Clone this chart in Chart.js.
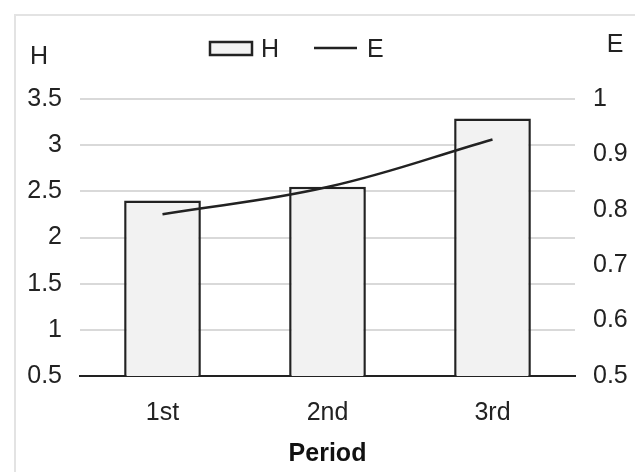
<!DOCTYPE html>
<html>
<head>
<meta charset="utf-8">
<script src="https://cdn.jsdelivr.net/npm/chart.js@4"></script>
<style>
  html, body { margin: 0; padding: 0; background: #ffffff; }
  #wrap { position: relative; width: 635px; height: 472px; overflow: hidden; }
  #frame { position: absolute; left: 14px; top: 14px; width: 700px; height: 600px;
           border-left: 2px solid #e3e3e3; border-top: 2px solid #e3e3e3; }
  #chart { position: absolute; left: 0; top: 0; }
</style>
</head>
<body>
<div id="wrap">
  <div id="frame"></div>
  <canvas id="chart" width="635" height="472"></canvas>
</div>
<script>
// Period vs H (bars, left axis) and E (line, right axis)
const periods = ['1st', '2nd', '3rd'];
const hValues = [2.4, 2.55, 3.29];
const eValues = [0.792, 0.841, 0.927];

const FONT = "'Liberation Sans', Arial, sans-serif";
const TEXT = '#222222';

// 3.0 -> 3, 1.0 -> 1
const plain = v => String(+v.toFixed(2));

// axis names and legend drawn on top of the chart
const annotations = {
    id: 'annotations',
    afterDraw(chart) {
        const c = chart.ctx;
        c.save();
        c.fillStyle = TEXT;
        c.font = '25px ' + FONT;
        c.textBaseline = 'middle';
        c.textAlign = 'center';
        c.fillText('H', 39, 57);
        c.fillText('E', 615, 45);

        // legend
        c.textAlign = 'left';
        c.fillStyle = '#f2f2f2';
        c.fillRect(210, 42, 42, 13);
        c.strokeStyle = '#222222';
        c.lineWidth = 2.5;
        c.strokeRect(210, 42, 42, 13);
        c.fillStyle = TEXT;
        c.fillText('H', 261, 50);
        c.beginPath();
        c.moveTo(314, 48);
        c.lineTo(357, 48);
        c.stroke();
        c.fillText('E', 367, 50);
        c.restore();
    }
};

new Chart(document.getElementById('chart'), {
    data: {
        labels: periods,
        datasets: [
            {
                type: 'line',
                label: 'E',
                data: eValues,
                yAxisID: 'y1',
                borderColor: '#222222',
                borderWidth: 2.5,
                pointRadius: 0,
                tension: 0.4,
                fill: false,
                order: 0
            },
            {
                type: 'bar',
                label: 'H',
                data: hValues,
                yAxisID: 'y',
                backgroundColor: '#f2f2f2',
                borderColor: '#222222',
                borderWidth: 2.5,
                borderSkipped: false,
                categoryPercentage: 1,
                barPercentage: 0.465,
                order: 1
            }
        ]
    },
    options: {
        responsive: false,
        animation: false,
        layout: { padding: { top: 99, left: 0, right: 0, bottom: 0 } },
        plugins: {
            legend: { display: false },
            tooltip: { enabled: false }
        },
        scales: {
            x: {
                grid: { display: false, drawTicks: false },
                border: { display: true, color: '#222222', width: 2 },
                ticks: { color: TEXT, font: { family: FONT, size: 25 }, padding: 22 },
                title: {
                    display: true,
                    text: 'Period',
                    color: '#111111',
                    font: { family: FONT, size: 25, weight: 'bold' },
                    padding: { top: 0, bottom: 3 }
                },
                afterFit(scale) { scale.height = 96; }
            },
            y: {
                position: 'left',
                min: 0.5,
                max: 3.5,
                ticks: { stepSize: 0.5, color: TEXT, font: { family: FONT, size: 25 }, padding: 18, callback: plain },
                grid: { color: '#d9d9d9', lineWidth: 2, drawTicks: false },
                border: { display: false },
                afterFit(scale) { scale.width = 80; }
            },
            y1: {
                position: 'right',
                min: 0.5,
                max: 1,
                ticks: { stepSize: 0.1, color: TEXT, font: { family: FONT, size: 25 }, padding: 18, callback: plain },
                grid: { display: false, drawTicks: false },
                border: { display: false },
                afterFit(scale) { scale.width = 60; }
            }
        }
    },
    plugins: [annotations]
});
</script>
</body>
</html>
